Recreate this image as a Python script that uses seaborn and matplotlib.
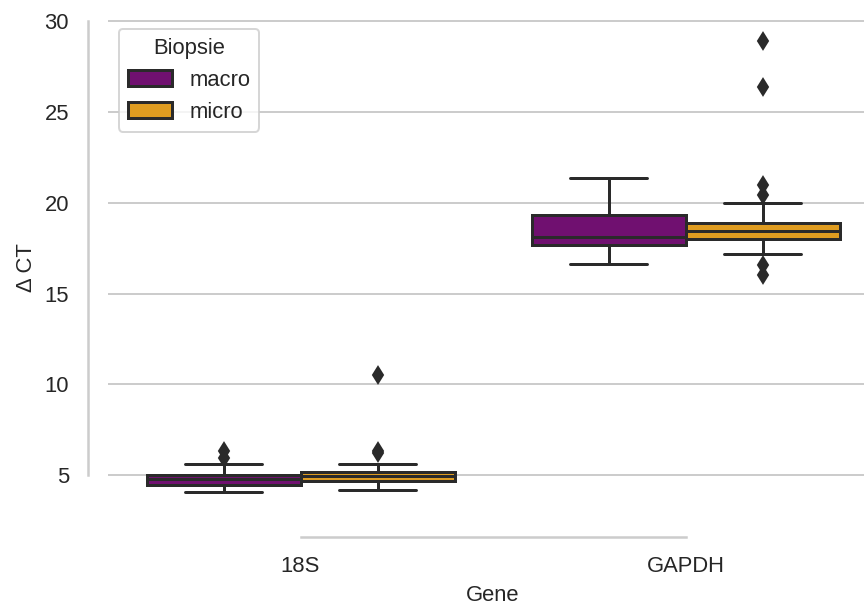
import numpy as np
import pandas as pd
import matplotlib
matplotlib.use("Agg")
import matplotlib.pyplot as plt
import seaborn as sns

# ΔCT measurements per gene and biopsy type
genes = ["18S", "GAPDH"]
biopsies = ["macro", "micro"]

ct_18s_macro = [4.05, 4.20, 4.35, 4.45, 4.60, 4.70, 4.80, 4.88, 4.95, 5.03,
                5.64, 5.95, 6.35]
ct_18s_micro = [4.19, 4.35, 4.50, 4.60, 4.69, 4.75, 4.82, 4.90, 4.95, 5.00,
                5.07, 5.12, 5.18, 5.64, 6.25, 6.35, 10.5]
ct_gapdh_macro = [16.64, 17.20, 17.65, 17.90, 18.14, 18.70, 19.32, 20.30, 21.37]
ct_gapdh_micro = [16.00, 16.55, 17.20, 17.60, 17.85, 18.00, 18.10, 18.20, 18.30,
                  18.38, 18.43, 18.50, 18.60, 18.70, 18.80, 18.87, 19.96, 20.40,
                  21.00, 26.38, 28.92]

palette = ["purple", "orange"]
edge = "#2a2a2a"

groups = {
    ("18S", "macro"): ct_18s_macro,
    ("18S", "micro"): ct_18s_micro,
    ("GAPDH", "macro"): ct_gapdh_macro,
    ("GAPDH", "micro"): ct_gapdh_micro,
}
rows = [(g, b, v) for (g, b), vals in groups.items() for v in vals]
df = pd.DataFrame(rows, columns=["Gene", "Biopsie", "dCT"])

sns.set_theme(style="whitegrid")
plt.rcParams["font.family"] = ["Liberation Sans", "DejaVu Sans"]

fig = plt.figure(figsize=(6, 603 / 144), dpi=144)
ax = fig.add_axes([108 / 864, 1 - 517 / 603, 770 / 864, (517 - 18) / 603])

sns.boxplot(
    data=df, x="Gene", y="dCT", hue="Biopsie",
    order=genes, hue_order=biopsies, palette=palette,
    saturation=0.75, width=0.8, gap=0, linewidth=1.5, linecolor=edge,
    fliersize=6,
    flierprops=dict(marker="d", markerfacecolor=edge, markeredgecolor=edge),
    ax=ax,
)

ax.set_ylim(2.7, 30.17)
ax.set_xlabel("Gene", fontsize=11)
ax.set_ylabel("Δ CT", fontsize=11)
ax.tick_params(labelsize=11)
sns.despine(ax=ax, offset=10, trim=True)

leg = ax.legend(title="Biopsie", loc="upper left", fontsize=11, title_fontsize=11)

fig.savefig("out.png", dpi=144)
